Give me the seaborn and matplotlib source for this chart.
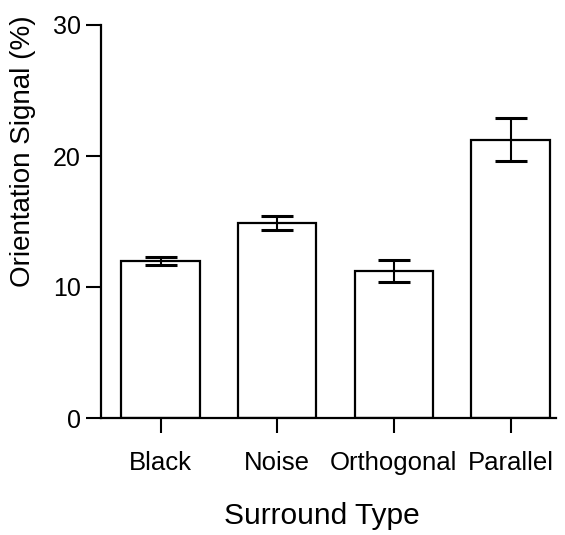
import matplotlib
matplotlib.use("Agg")
import matplotlib.pyplot as plt
import seaborn as sns
import pandas as pd

categories = ["Black", "Noise", "Orthogonal", "Parallel"]
means = [12.0, 14.9, 11.2, 21.25]
errors = [0.3, 0.55, 0.85, 1.65]
yticks = [0, 10, 20, 30]

sns.set_theme(style="ticks")
plt.rcParams["font.family"] = ["Liberation Sans", "DejaVu Sans"]

df = pd.DataFrame({"Surround Type": categories, "Signal": means})

fig = plt.figure(figsize=(5.65, 5.35), dpi=100)
ax = fig.add_axes([101 / 565, 1 - 418 / 535, (556 - 101) / 565, (418 - 25) / 535])

sns.barplot(data=df, x="Surround Type", y="Signal", ax=ax, color="white",
            edgecolor="black", linewidth=1.6, width=0.67, errorbar=None)
for p in ax.patches:
    p.set_facecolor("white")

ax.errorbar(range(len(categories)), means, yerr=errors, fmt="none",
            ecolor="black", elinewidth=1.5, capsize=11.5, capthick=2.2)

ax.set_ylim(0, 30)
ax.set_xlim(-0.51, 3.39)
ax.set_yticks(yticks)
ax.set_yticklabels([str(t) for t in yticks])
sns.despine(ax=ax)
for s in ["left", "bottom"]:
    ax.spines[s].set_linewidth(1.6)
    ax.spines[s].set_color("black")

ax.tick_params(axis="y", length=11, width=1.5, pad=3.5, labelsize=18, colors="black")
ax.tick_params(axis="x", length=11, width=1.5, pad=13, labelsize=18.5, colors="black")

ax.set_ylabel("Orientation Signal (%)", fontsize=20, color="black")
ax.yaxis.set_label_coords(-0.143, 0.68)
ax.set_xlabel("Surround Type", fontsize=21.5, color="black")
ax.xaxis.set_label_coords(0.485, -0.213)

fig.savefig("out.png", dpi=100)
